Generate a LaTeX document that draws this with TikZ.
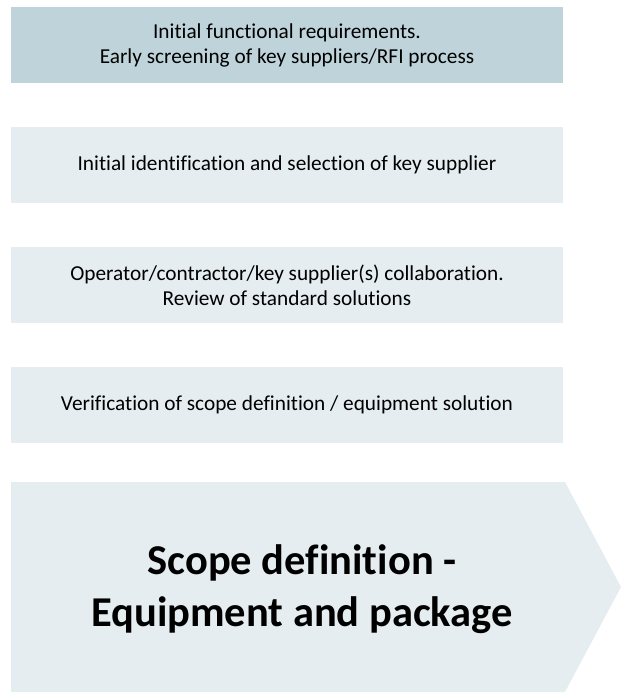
\documentclass[tikz,border=0pt]{standalone}
\usepackage{fontspec}
\setmainfont{Carlito}[Ligatures=NoCommon]
\usepackage{tikz}
\definecolor{darkfill}{RGB}{191,212,218}
\definecolor{lightfill}{RGB}{229,237,240}
\tikzset{
  stepbox/.style={fill=lightfill, minimum width=552pt, minimum height=76pt,
    inner sep=0pt, align=center, font=\fontsize{21.3}{25}\selectfont},
  bigtext/.style={align=center, font=\fontsize{42.5}{52}\selectfont\bfseries}
}
\begin{document}
\begin{tikzpicture}[x=1pt, y=-1pt]
            \useasboundingbox (0,0) rectangle (621,693);

            % Steps
            \node[stepbox, fill=darkfill] (req) at (287,45) {Initial functional requirements.\\Early screening of key suppliers/RFI process};
            \node[stepbox] (select) at (287,165) {Initial identification and selection of key supplier};
            \node[stepbox] (collab) at (287,285) {Operator/contractor/key supplier(s) collaboration.\\Review of standard solutions};
            \node[stepbox] (verify) at (287,405) {Verification of scope definition / equipment solution};

            % Arrow
            \fill[lightfill] (11,482) -- (565,482) -- (621,587) -- (565,692) -- (11,692) -- cycle;

            % Labels
            \node[bigtext] (scope) at (302,589) {Scope definition -\\Equipment and package};
        \end{tikzpicture}
\end{document}
